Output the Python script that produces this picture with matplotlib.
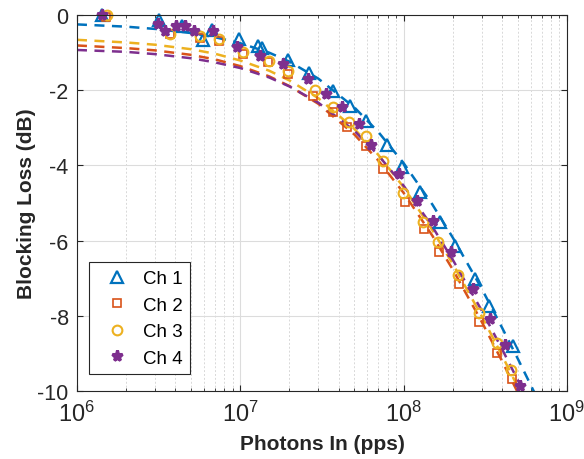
import numpy as np
import matplotlib.pyplot as plt

plt.rcParams['font.family'] = ['Liberation Sans', 'DejaVu Sans']
plt.rcParams['mathtext.default'] = 'regular'
plt.rcParams['axes.unicode_minus'] = False

# measured points
ch1_x = [1.42e6, 3.18e6, 4.4e6, 5.9e6, 6.7e6, 9.8e6, 1.28e7, 1.35e7, 1.96e7, 2.65e7,
         3.7e7, 4.7e7, 5.85e7, 7.9e7, 9.8e7, 1.26e8, 1.66e8, 2.06e8, 2.74e8, 3.33e8, 4.68e8]
ch1_y = [0.0, -0.13, -0.29, -0.66, -0.40, -0.64, -0.82, -0.88, -1.20, -1.55,
         -2.02, -2.42, -2.82, -3.46, -4.04, -4.71, -5.5, -6.15, -7.02, -7.74, -8.8]

ch2_x = [1.5e6, 3.7e6, 5.7e6, 7.4e6, 1.04e7, 1.48e7, 1.96e7, 2.79e7, 3.7e7, 4.5e7,
         5.9e7, 7.5e7, 1.02e8, 1.34e8, 1.65e8, 2.18e8, 2.9e8, 3.73e8, 4.61e8]
ch2_y = [-0.05, -0.5, -0.62, -0.7, -1.05, -1.25, -1.57, -2.15, -2.58, -2.98,
         -3.48, -4.1, -4.97, -5.7, -6.3, -7.15, -8.16, -8.99, -9.68]

ch3_x = [1.53e6, 3.7e6, 5.67e6, 7.4e6, 1.04e7, 1.5e7, 1.96e7, 2.87e7, 3.7e7, 4.63e7,
         5.9e7, 7.5e7, 9.9e7, 1.32e8, 1.63e8, 2.15e8, 2.9e8, 3.73e8, 4.55e8]
ch3_y = [0.0, -0.5, -0.56, -0.64, -0.98, -1.22, -1.49, -2.0, -2.45, -2.85,
         -3.22, -3.88, -4.73, -5.5, -6.04, -6.91, -7.93, -8.72, -9.44]

ch4_x = [1.42e6, 3.13e6, 3.46e6, 4.04e6, 4.58e6, 5.2e6, 6.8e6, 9.55e6, 1.32e7, 1.83e7,
         2.6e7, 3.35e7, 4.2e7, 5.33e7, 6.3e7, 9.4e7, 1.21e8, 1.51e8, 1.95e8, 2.66e8,
         3.38e8, 4.18e8, 5.16e8]
ch4_y = [0.0, -0.24, -0.43, -0.29, -0.29, -0.43, -0.43, -0.85, -1.09, -1.30,
         -1.70, -2.10, -2.45, -2.90, -3.46, -4.23, -4.95, -5.48, -6.30, -7.29,
         -8.09, -8.78, -9.87]

# fitted curves
fit_x = [1e6, 2e6, 3e6, 5e6, 7e6, 1e7, 1.5e7, 2e7, 3e7, 5e7, 7e7, 1e8,
         1.5e8, 2e8, 3e8, 4e8, 5e8, 6e8, 7e8]
fit1 = [-0.25, -0.31, -0.37, -0.48, -0.59, -0.75, -1.00, -1.24, -1.69, -2.46, -3.11, -3.94,
        -5.04, -5.92, -7.27, -8.31, -9.14, -9.84, -10.44]
fit2 = [-0.81, -0.88, -0.94, -1.06, -1.18, -1.36, -1.63, -1.89, -2.36, -3.18, -3.87, -4.73,
        -5.87, -6.77, -8.15, -9.20, -10.04, -10.75, -11.4]
fit3 = [-0.66, -0.73, -0.79, -0.91, -1.03, -1.21, -1.48, -1.74, -2.21, -3.03, -3.72, -4.58,
        -5.72, -6.62, -8.00, -9.05, -9.89, -10.6, -11.2]
fit4 = [-0.93, -0.98, -1.04, -1.15, -1.26, -1.41, -1.66, -1.90, -2.33, -3.08, -3.73, -4.54,
        -5.63, -6.51, -7.85, -8.88, -9.71, -10.40, -11.0]

colors = ['#0072BD', '#D95319', '#EDB120', '#7E2F8E']
labels = ['Ch 1', 'Ch 2', 'Ch 3', 'Ch 4']

fig = plt.figure(figsize=(5.84, 4.6), dpi=100)
ax = fig.add_axes([0.1318, 0.1478, 0.839, 0.8174])

for fy, c in zip([fit1, fit2, fit3, fit4], colors):
    ax.plot(fit_x, fy, color=c, lw=1.8, dashes=(4, 3))

ax.plot(ch1_x, ch1_y, ls='none', marker='^', ms=8.5, mfc='none', mec=colors[0], mew=1.6,
        label=labels[0], clip_on=False)
ax.plot(ch2_x, ch2_y, ls='none', marker='s', ms=5.5, mfc='none', mec=colors[1], mew=1.2,
        label=labels[1], clip_on=False)
ax.plot(ch3_x, ch3_y, ls='none', marker='o', ms=7, mfc='none', mec=colors[2], mew=1.5,
        label=labels[2], clip_on=False)
ax.plot(ch4_x, ch4_y, ls='none', marker='*', ms=8, mfc=colors[3], mec=colors[3], mew=2.2,
        label=labels[3], clip_on=False)

ax.set_xscale('log')
ax.set_xlim(1e6, 1e9)
ax.set_ylim(-10, 0)
ax.set_yticks([-10, -8, -6, -4, -2, 0])
ax.set_xticks([1e6, 1e7, 1e8, 1e9])

ax.grid(True, which='major', color='#dcdcdc', lw=0.8)
ax.grid(True, which='minor', axis='x', color='#d8d8d8', lw=0.7, ls=(0, (2, 2)))
ax.set_axisbelow(True)

ax.tick_params(which='both', direction='in', top=True, right=True, colors='#262626')
ax.tick_params(axis='y', labelsize=15.5, pad=6)
ax.tick_params(axis='x', labelsize=17, pad=7)
ax.tick_params(which='major', length=4)
ax.tick_params(which='minor', length=2.5)
for s in ax.spines.values():
    s.set_color('#262626')
    s.set_linewidth(0.8)

ax.set_xlabel('Photons In (pps)', fontsize=15, fontweight='bold', color='#262626', labelpad=6)
ax.set_ylabel('Blocking Loss (dB)', fontsize=15, fontweight='bold', color='#262626', labelpad=1)

leg = ax.legend(loc='lower left', bbox_to_anchor=(0.024, 0.045), borderaxespad=0,
                fontsize=13.5, frameon=True, fancybox=False, edgecolor='#262626',
                framealpha=1, handlelength=2.2, handletextpad=0.3, borderpad=0.4,
                labelspacing=0.5)
leg.get_frame().set_linewidth(0.8)

fig.savefig('out.png', dpi=100)
